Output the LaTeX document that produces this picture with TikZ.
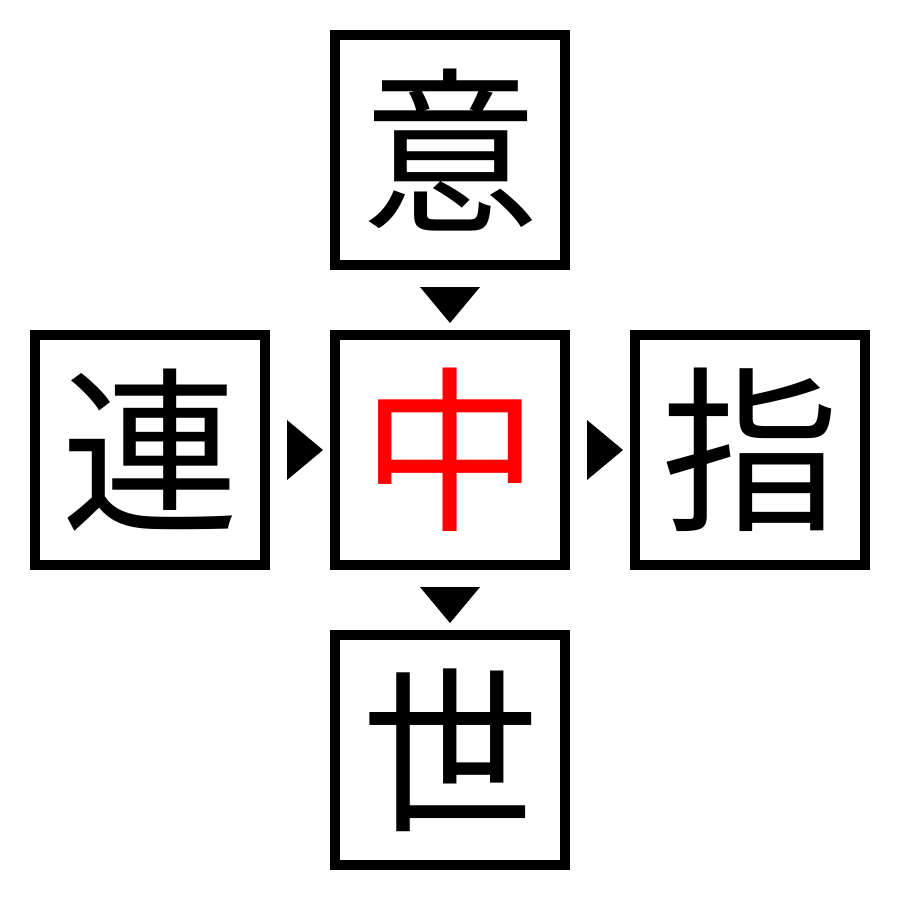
\documentclass[tikz,border=0pt]{standalone}
\usepackage{fontspec}
\newfontfamily\cjk{Noto Sans CJK JP}
\usetikzlibrary{calc}
\begin{document}
\begin{tikzpicture}[x=1pt,y=-1pt,
  box/.style={draw=black,line width=10pt,minimum size=230pt,inner sep=0pt,font=\cjk\fontsize{178}{178}\selectfont},
  tri/.style={fill=black}]
\useasboundingbox (0,0) rectangle (900,900);
\node[box] (top) at (450,150) {意};
\node[box,text=red] (mid) at (450,450) {中};
\node[box] (left) at (150,450) {連};
\node[box] (right) at (750,450) {指};
\node[box] (bot) at (450,750) {世};
\fill[tri] ($(top.south)+(-30,17)$) -- ($(top.south)+(30,17)$) -- ($(mid.north)+(0,-7)$) -- cycle;
\fill[tri] ($(mid.south)+(-30,17)$) -- ($(mid.south)+(30,17)$) -- ($(bot.north)+(0,-7)$) -- cycle;
\fill[tri] ($(left.east)+(17,-30)$) -- ($(left.east)+(17,30)$) -- ($(mid.west)+(-7,0)$) -- cycle;
\fill[tri] ($(mid.east)+(17,-30)$) -- ($(mid.east)+(17,30)$) -- ($(right.west)+(-7,0)$) -- cycle;
\end{tikzpicture}
\end{document}
